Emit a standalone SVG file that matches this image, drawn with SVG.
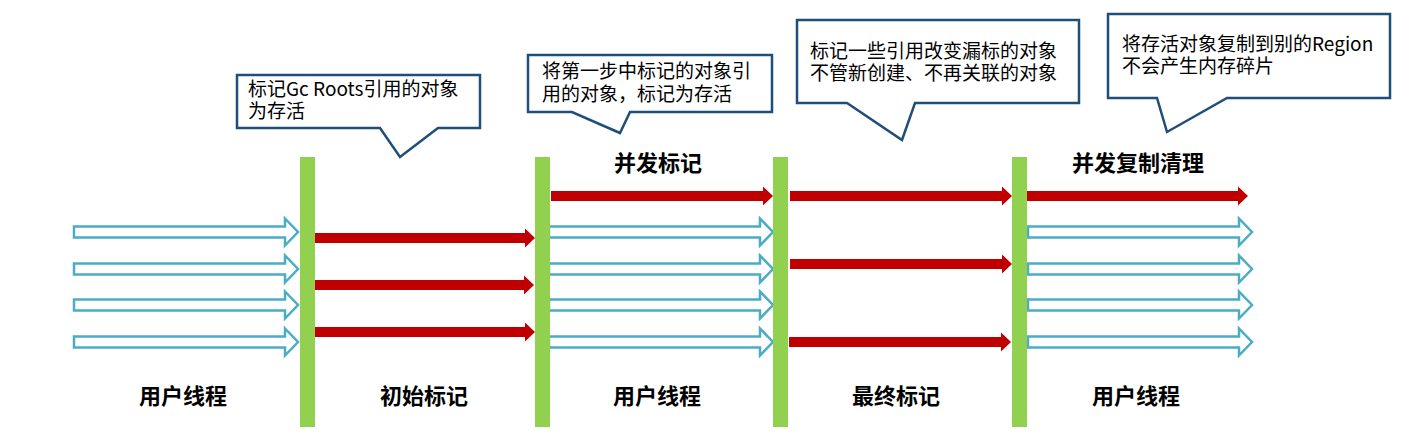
<svg xmlns="http://www.w3.org/2000/svg" xmlns:xlink="http://www.w3.org/1999/xlink" width="1410" height="446" viewBox="0 0 1410 446">
<style>
.bar{fill:#92D050}
.blue{fill:#fff;stroke:#4BACC6;stroke-width:2.5}
.red{fill:#C00000}
.callout{fill:#fff;stroke:#1F4E79;stroke-width:2.5;stroke-linejoin:miter}
.ct{font-family:"Noto Sans CJK SC","Liberation Sans",sans-serif;font-size:19px;fill:#000}
.lbl{font-family:"Noto Sans CJK SC","Liberation Sans",sans-serif;font-size:22px;font-weight:bold;fill:#000;text-anchor:middle}
</style>
<defs>
<path id="ba" class="blue" d="M0,-5.5 H211 V-13.5 L224,0 L211,13.5 V5.5 H0 Z"/>
<path id="ra" class="red" d="M0,-5 H212 V-9.5 L222,0 L212,9.5 V5 H0 Z"/>
</defs>
<rect width="1410" height="446" fill="#fff"/>
<g id="connectors">
<use xlink:href="#ba" x="74" y="232"/>
<use xlink:href="#ba" x="74" y="269"/>
<use xlink:href="#ba" x="74" y="305"/>
<use xlink:href="#ba" x="74" y="342"/>
<use xlink:href="#ra" x="313" y="238"/>
<use xlink:href="#ra" x="312" y="285"/>
<use xlink:href="#ra" x="313" y="332"/>
<use xlink:href="#ra" x="551" y="196"/>
<use xlink:href="#ba" x="549" y="232"/>
<use xlink:href="#ba" x="549" y="269"/>
<use xlink:href="#ba" x="549" y="305"/>
<use xlink:href="#ba" x="549" y="342"/>
<use xlink:href="#ra" x="790" y="196"/>
<use xlink:href="#ra" x="790" y="264"/>
<use xlink:href="#ra" x="789" y="342"/>
<use xlink:href="#ra" x="1026" y="196"/>
<use xlink:href="#ba" x="1028" y="232"/>
<use xlink:href="#ba" x="1028" y="269"/>
<use xlink:href="#ba" x="1028" y="305"/>
<use xlink:href="#ba" x="1028" y="342"/>
</g>
<g id="bar1"><rect class="bar" x="300" y="157" width="15" height="270"/></g>
<g id="bar2"><rect class="bar" x="535" y="157" width="15" height="270"/></g>
<g id="bar3"><rect class="bar" x="773" y="157" width="15" height="270"/></g>
<g id="bar4"><rect class="bar" x="1012" y="157" width="15" height="270"/></g>
<g id="callout1">
<path class="callout" d="M237,75 H480 V128 H438 L400,157 L380,128 H237 Z"/>
<text class="ct" x="248" y="96">标记Gc Roots引用的对象</text>
<text class="ct" x="248" y="118">为存活</text>
</g>
<g id="callout2">
<path class="callout" d="M528,55 H772 V112 H630 L620,133 L572,112 H528 Z"/>
<text class="ct" x="542" y="78">将第一步中标记的对象引</text>
<text class="ct" x="542" y="101">用的对象，标记为存活</text>
</g>
<g id="callout3">
<path class="callout" d="M797,20 H1079 V103 H915 L902,140 L847,103 H797 Z"/>
<text class="ct" x="810" y="58">标记一些引用改变漏标的对象</text>
<text class="ct" x="810" y="80">不管新创建、不再关联的对象</text>
</g>
<g id="callout4">
<path class="callout" d="M1108,14 H1390 V98 H1227 L1167,132 L1157,98 H1108 Z"/>
<text class="ct" x="1122" y="51">将存活对象复制到别的Region</text>
<text class="ct" x="1122" y="73">不会产生内存碎片</text>
</g>
<g id="label-concurrent-mark"><text class="lbl" x="658" y="171">并发标记</text></g>
<g id="label-concurrent-copy"><text class="lbl" x="1138" y="171">并发复制清理</text></g>
<g id="label-user1"><text class="lbl" x="183" y="404">用户线程</text></g>
<g id="label-initial-mark"><text class="lbl" x="424" y="404">初始标记</text></g>
<g id="label-user2"><text class="lbl" x="657" y="404">用户线程</text></g>
<g id="label-final-mark"><text class="lbl" x="896" y="404">最终标记</text></g>
<g id="label-user3"><text class="lbl" x="1136" y="404">用户线程</text></g>
</svg>
